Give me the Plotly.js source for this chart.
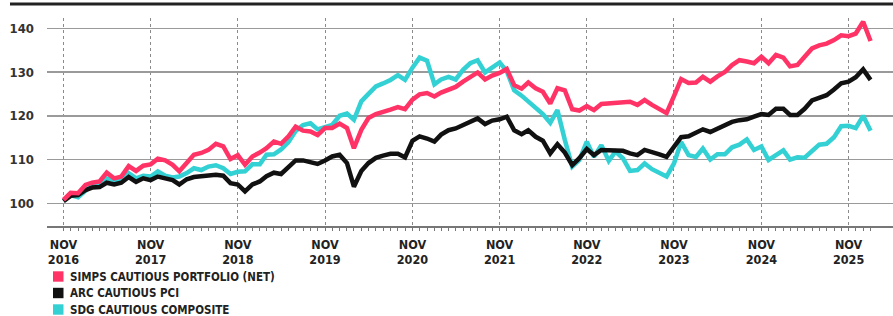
<!DOCTYPE html>
<html><head><meta charset="utf-8">
<script src="https://cdn.plot.ly/plotly-3.0.1.min.js"></script>
<style>html,body{margin:0;padding:0;background:#fff}#chart{width:893px;height:316px}</style>
</head><body><div id="chart"></div>
<script>
const seriesNames = ['SIMPS CAUTIOUS PORTFOLIO (NET)', 'ARC CAUTIOUS PCI', 'SDG CAUTIOUS COMPOSITE'];
const seriesColors = ['#ff3366', '#111111', '#33d0d4'];

// Monthly index values, Nov 2016 -> Feb 2026
const simps = [100.8,102.4,102.3,104.2,104.7,105,107,105.7,106.1,108.5,107.4,108.6,
  108.9,110.2,109.8,108.8,107.3,109.2,111.1,111.5,112.2,113.6,113,110.1,
  111,108.8,110.7,111.6,112.6,114.1,113.6,115.3,117.5,116.6,116.4,115.6,
  117.2,117.2,118.2,117.2,112.6,116.8,119.5,120.4,120.8,121.4,122,121.5,
  123.7,124.9,125.2,124.4,125.3,126.1,126.6,127.8,128.8,129.9,128.3,129.2,
  129.8,130.7,127,126.2,127.6,126.3,125.5,122.8,126.3,125.8,121.5,121.2,
  122.2,121.3,122.7,122.8,123,123,123.2,122.5,123.6,122.5,121.5,120.6,
  124.5,128.4,127.5,127.6,128.9,127.8,129,130,131.6,132.7,132.4,132,
  133.5,132,133.9,133.3,131.3,131.6,133.5,135.4,136.1,136.5,137.3,138.4,
  138.2,138.8,141.5,137.1];
const arc = [100.5,101.7,101.9,103,103.6,103.7,104.7,104.3,104.7,106,104.9,105.7,
  105.3,106.1,105.7,105.3,104.3,105.5,106,106.1,106.4,106.5,106.3,104.6,
  104.3,102.7,104.3,105,106.2,107,106.7,108.2,109.8,109.8,109.3,109,
  109.8,110.7,111.1,109.2,103.8,107.4,109.2,110.4,110.9,111.3,111.3,110.5,
  114.3,115.3,114.8,114.1,115.7,116.7,117.1,117.9,118.6,119.4,118.1,118.9,
  119.2,119.8,116.7,115.8,116.7,115.2,114.3,111.4,113.5,111.6,108.7,110.3,
  112.4,111,112.2,112.2,112.2,112,111.4,111,112.2,111.8,111.2,110.6,
  113,115.1,115.3,116,116.9,116.3,117.1,117.8,118.6,119,119.2,119.8,
  120.4,120.2,121.6,121.6,120.2,120.2,121.6,123.5,124,124.7,126,127.4,
  127.8,128.8,130.6,128.2];
const sdg = [100.5,101.9,101.4,103,104.2,104.7,105.7,105.3,105.1,106.9,105.7,106.3,
  106.1,107.3,106.3,105.9,106.1,106.9,108,107.6,108.4,108.7,108,106.7,
  107.2,107.3,108.9,108.9,111.1,111.2,112.3,114,116.5,117.9,118.3,116.9,
  117.3,117.9,120,120.5,119.1,123.3,125,126.7,127.4,128.2,129.3,128.2,
  131,133.3,132.6,127.2,128.3,128.9,128.3,130.5,132,132.7,129.9,131,
  132.2,130.2,125.8,124.6,123.3,121.9,120.4,118.4,121.3,114.5,108.4,109.9,
  114.1,110.6,113.3,109.7,111.8,110.3,107.4,107.6,109.1,107.8,106.8,106.1,
  109.1,114,111,110.6,112.5,110,111.2,111.2,112.8,113.4,114.6,112.2,
  113,109.9,111,112.1,110,110.5,110.4,111.8,113.4,113.6,115.1,117.6,
  117.7,117.2,120,116.6];

const startYear = 2016, startMonth = 11;
const dates = [];
for (let i = 0; i < simps.length; i++) {
  const m = startMonth - 1 + i;
  const y = startYear + Math.floor(m / 12);
  dates.push(y + '-' + String(m % 12 + 1).padStart(2, '0') + '-01');
}
const yTicks = [100, 110, 120, 130, 140];
const novDates = dates.filter(d => d.slice(5, 7) === '11');
const novLabels = novDates.map(() => 'NOV');
const yearLabels = novDates.map(d => d.slice(0, 4));

const values = [simps, arc, sdg];
const drawOrder = [2, 1, 0];
const traces = drawOrder.map(k => ({
  type: 'scatter', mode: 'lines', x: dates, y: values[k], name: seriesNames[k],
  xaxis: k === 0 ? 'x2' : 'x',
  line: {color: seriesColors[k], width: 4.5}, showlegend: false, hoverinfo: 'skip'
}));

// page geometry (px)
const W = 893, H = 316, M = {l: 47, r: 0, t: 18, b: 90};
const pw = W - M.l - M.r, ph = H - M.t - M.b;
const px2x = px => (px - M.l) / pw;
const py2y = py => (H - M.b - py) / ph;

// legend built from the series names / colours
const legendRows = [276.5, 293, 309.5];
const shapes = [{type: 'line', xref: 'paper', yref: 'paper', x0: px2x(10), x1: 1, y0: py2y(4), y1: py2y(4),
  line: {color: '#222', width: 3}}];
const annotations = [];
const FONT = 'DejaVu Sans Condensed, sans-serif';
seriesNames.forEach((name, k) => {
  const cy = legendRows[k];
  shapes.push({type: 'rect', xref: 'paper', yref: 'paper', x0: px2x(53), x1: px2x(63.5),
    y0: py2y(cy + 5.2), y1: py2y(cy - 5.2), line: {width: 0}, fillcolor: seriesColors[k]});
  annotations.push({xref: 'paper', yref: 'paper', x: px2x(69), y: py2y(cy), xanchor: 'left', yanchor: 'middle',
    text: name, showarrow: false, borderpad: 0,
    font: {family: FONT, size: 11.5, color: '#222', weight: 700}});
});

const layout = {
  width: W, height: H,
  margin: Object.assign({autoexpand: false}, M),
  paper_bgcolor: '#ffffff', plot_bgcolor: '#ffffff',
  font: {family: FONT, weight: 700, color: '#222'},
  showlegend: false,
  xaxis: {
    type: 'date', range: ['2016-08-24', '2026-05-06'], automargin: false,
    tickmode: 'array', tickvals: novDates, ticktext: novLabels,
    ticks: 'outside', ticklen: 3, tickcolor: '#777', tickwidth: 1,
    showgrid: true, gridcolor: '#8a8a8a', griddash: 'dot', gridwidth: 1,
    showline: true, linecolor: '#777', linewidth: 1.5, zeroline: false,
    tickfont: {family: FONT, size: 12.5, color: '#222', weight: 700},
    ticklabelstandoff: 3,
    minor: {tickmode: 'array', tickvals: dates, ticks: 'outside', ticklen: 3, tickcolor: '#777', tickwidth: 1, showgrid: false}
  },
  xaxis2: {
    type: 'date', overlaying: 'x', matches: 'x', anchor: 'y', side: 'bottom', automargin: false,
    tickmode: 'array', tickvals: novDates, ticktext: yearLabels,
    ticks: '', showgrid: false, showline: false, zeroline: false,
    tickfont: {family: FONT, size: 12.5, color: '#222', weight: 700},
    ticklabelstandoff: 24
  },
  yaxis: {
    range: [94.81, 142.35], tickmode: 'array', tickvals: yTicks, automargin: false,
    showgrid: true, gridcolor: '#9a9a9a', gridwidth: 1.5, zeroline: false, showline: false,
    ticks: '', ticklabelstandoff: 12,
    tickfont: {family: FONT, size: 13, color: '#333', weight: 700}
  },
  shapes: shapes,
  annotations: annotations
};
Plotly.newPlot('chart', traces, layout, {staticPlot: true, displayModeBar: false});
</script>
</body></html>
